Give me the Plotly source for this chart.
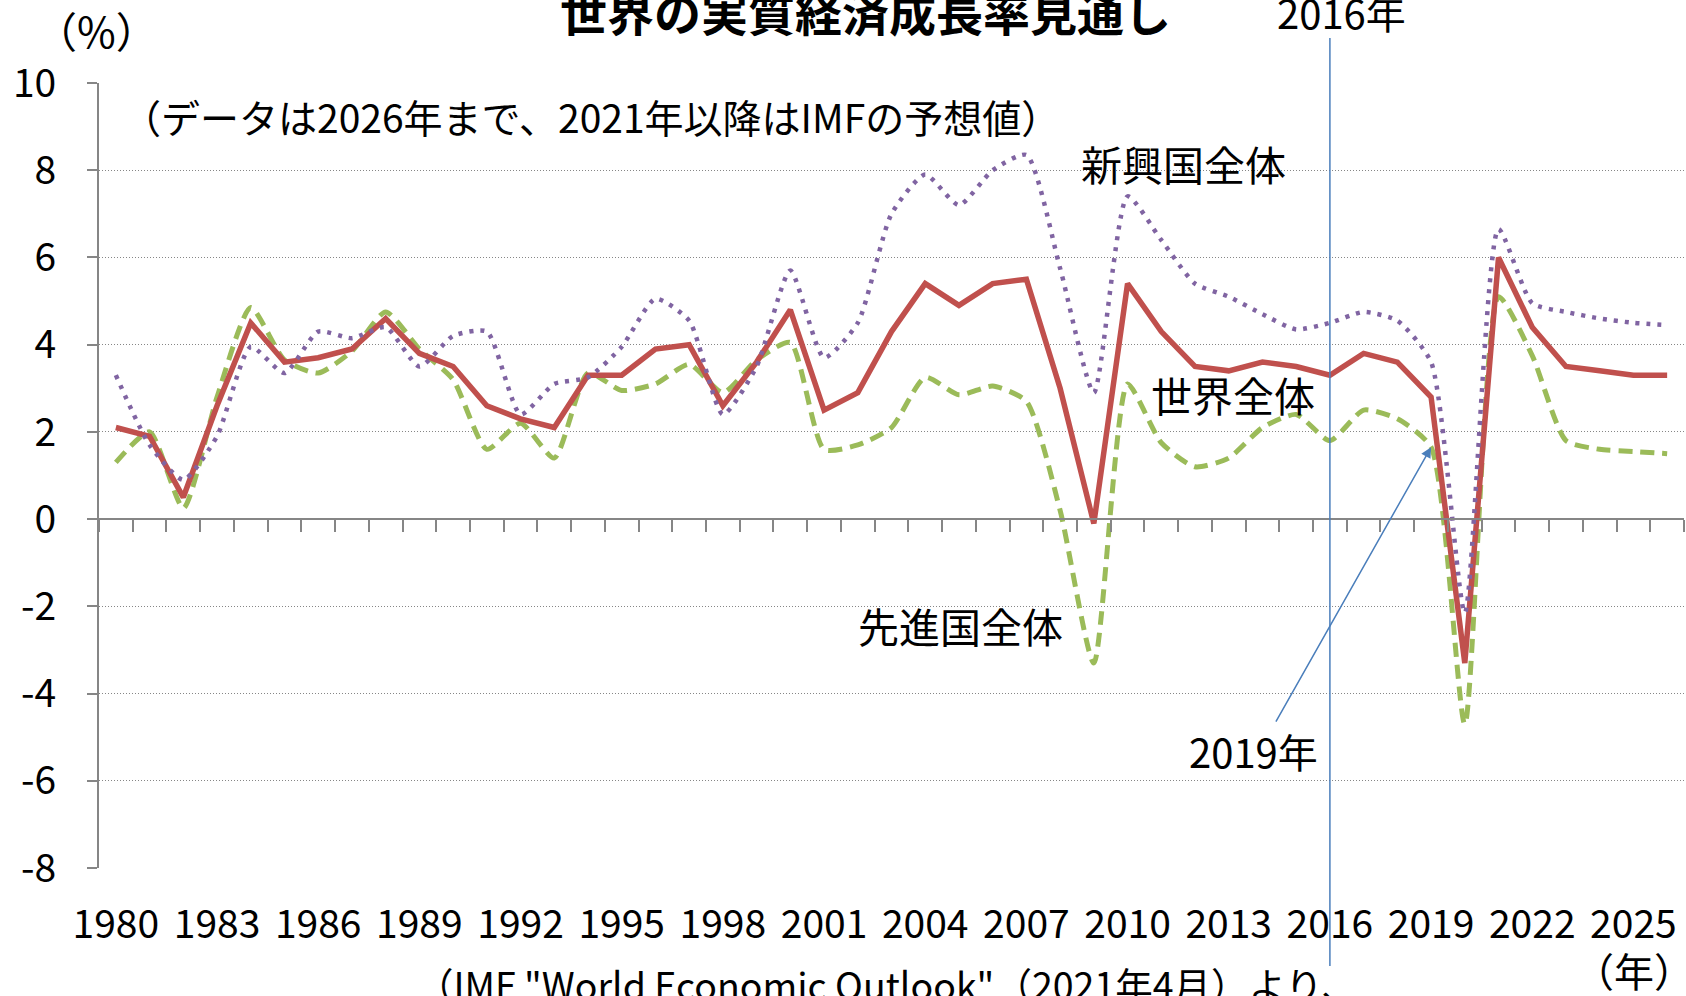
import plotly.graph_objects as go

# ---------------- data ----------------
years = list(range(1980, 2027))
world = [2.1, 1.9, 0.5, 2.6, 4.5, 3.6, 3.7, 3.9, 4.6, 3.8,
         3.5, 2.6, 2.3, 2.1, 3.3, 3.3, 3.9, 4.0, 2.6, 3.6,
         4.8, 2.5, 2.9, 4.3, 5.4, 4.9, 5.4, 5.5, 3.0, -0.1,
         5.4, 4.3, 3.5, 3.4, 3.6, 3.5, 3.3, 3.8, 3.6, 2.8,
         -3.3, 6.0, 4.4, 3.5, 3.4, 3.3, 3.3]
advanced = [1.3, 2.0, 0.25, 2.8, 4.85, 3.65, 3.35, 3.85, 4.75, 3.9,
            3.2, 1.6, 2.2, 1.4, 3.35, 2.95, 3.1, 3.55, 2.9, 3.65,
            4.05, 1.6, 1.7, 2.1, 3.25, 2.85, 3.05, 2.7, 0.2, -3.3,
            3.1, 1.75, 1.2, 1.4, 2.1, 2.4, 1.8, 2.5, 2.3, 1.65,
            -4.7, 5.1, 3.75, 1.8, 1.6, 1.55, 1.5]
emerging = [3.3, 1.7, 0.9, 1.9, 3.95, 3.35, 4.3, 4.15, 4.4, 3.5,
            4.2, 4.3, 2.4, 3.1, 3.25, 3.95, 5.05, 4.55, 2.4, 3.5,
            5.7, 3.7, 4.5, 7.0, 7.9, 7.2, 8.0, 8.35, 5.75, 2.9,
            7.4, 6.4, 5.4, 5.1, 4.7, 4.35, 4.5, 4.75, 4.55, 3.6,
            -2.15, 6.65, 4.95, 4.75, 4.6, 4.5, 4.45]
x_tick_years = list(range(1980, 2026, 3))
x_tick_labels = [str(y) for y in x_tick_years]
y_tick_values = list(range(-8, 11, 2))
y_tick_labels = [str(v) for v in y_tick_values]
boundaries = [y - 0.5 for y in years] + [years[-1] + 0.5]
marker_year = 2016
arrow_year = 2019

# ---------------- layout helpers ----------------
W, H = 1686, 996
L, R, T, B = 99, 2, 83, 128
PW, PH = W - L - R, H - T - B


def px(x):  # screen pixel -> paper
    return (x - L) / PW


def py(y):
    return (H - B - y) / PH


FONT = "Noto Sans CJK JP, Noto Sans, sans-serif"
AXIS_GRAY = "#868686"

fig = go.Figure()
fig.add_trace(go.Scatter(
    x=years, y=advanced, mode="lines", name="先進国全体",
    line=dict(color="#9BBB59", width=5, dash="14px,8px", shape="spline", smoothing=0.6)))
fig.add_trace(go.Scatter(
    x=years, y=world, mode="lines", name="世界全体",
    line=dict(color="#C0504D", width=5.5)))
fig.add_trace(go.Scatter(
    x=years, y=emerging, mode="lines", name="新興国全体",
    line=dict(color="#8064A2", width=4.5, dash="4px,7px", shape="spline", smoothing=0.6)))
# carrier trace for the axis drawn at y = 0
fig.add_trace(go.Scatter(
    x=years, y=world, xaxis="x2", mode="lines", line=dict(width=0),
    opacity=0, hoverinfo="skip", showlegend=False))

xrange = [years[0] - 0.5, years[-1] + 0.5]
yrange = [-8, 10]

fig.update_layout(
    width=W, height=H,
    margin=dict(l=L, r=R, t=T, b=B, pad=0),
    paper_bgcolor="white", plot_bgcolor="white",
    showlegend=False,
    font=dict(family=FONT, color="black"),
    xaxis=dict(
        range=xrange, tickmode="array", tickvals=x_tick_years, ticktext=x_tick_labels,
        ticks="", showline=False, showgrid=False, zeroline=False,
        tickfont=dict(size=39, family=FONT, color="black"), ticklabelstandoff=30,
    ),
    xaxis2=dict(
        range=xrange, overlaying="x", anchor="free", position=(0 - yrange[0]) / (yrange[1] - yrange[0]),
        tickmode="array", tickvals=boundaries, ticks="outside", ticklen=12,
        tickwidth=2, tickcolor=AXIS_GRAY, showticklabels=False,
        showline=True, linecolor=AXIS_GRAY, linewidth=2, showgrid=False, zeroline=False,
    ),
    yaxis=dict(
        range=yrange, tickmode="array", tickvals=y_tick_values, ticktext=y_tick_labels,
        ticks="outside", ticklen=10, tickwidth=2, tickcolor=AXIS_GRAY,
        showline=True, linecolor=AXIS_GRAY, linewidth=2,
        showgrid=True, gridcolor=AXIS_GRAY, gridwidth=1, griddash="1px,2px",
        zeroline=False, tickfont=dict(size=39, family=FONT, color="black"),
        ticklabelstandoff=23,
    ),
)

# vertical 2016 line
fig.add_shape(type="line", xref="x", yref="paper", x0=marker_year, x1=marker_year,
              y0=py(966), y1=py(38), line=dict(color="#4A7EBB", width=1.5), layer="above")

arrow_val = advanced[years.index(arrow_year)]
fig.add_annotation(x=arrow_year, y=arrow_val, xref="x", yref="y", text="",
                   showarrow=True, ax=-156, ay=276, arrowhead=2, arrowsize=1.4,
                   arrowwidth=1.5, arrowcolor="#4A7EBB", standoff=0)


def label(text, x, y, size, anchor="center", bold=False):
    fig.add_annotation(x=px(x), y=py(y), xref="paper", yref="paper",
                       text=("<b>%s</b>" % text) if bold else text,
                       showarrow=False, xanchor=anchor, yanchor="middle",
                       font=dict(size=size, family=FONT, color="black"))


label("世界の実質経済成長率見通し", 865, 10, 47, bold=True)
label("（%）", 96, 29, 42)
label("2016年", 1341, 12, 40)
label("（データは2026年まで、2021年以降はIMFの予想値）", 120, 116, 39, anchor="left")
label("新興国全体", 1183, 163, 41)
label("世界全体", 1233, 394, 41)
label("先進国全体", 960, 625, 41)
label("2019年", 1253, 751, 40)
label("（年）", 1634, 970, 40)
label("（IMF \"World Economic Outlook\"（2021年4月）より、", 887, 983, 37.5)

fig.write_html("out.html", config={"displayModeBar": False},
               post_script="document.body.style.margin='0px';document.body.style.overflow='hidden';")
